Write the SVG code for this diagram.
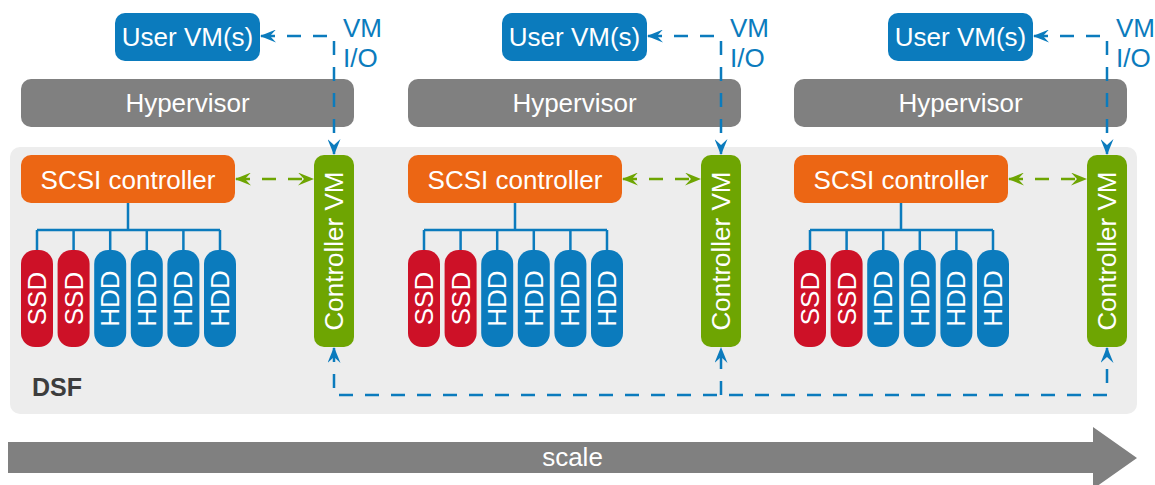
<svg xmlns="http://www.w3.org/2000/svg" width="1155" height="485" viewBox="0 0 1155 485">
<style>
  text { font-family: "Liberation Sans", Arial, sans-serif; font-size: 26px; fill: #ffffff; }
  .uvm { fill: #0b7bbd; }
  .hyp { fill: #808080; }
  .scsi { fill: #ec6614; }
  .cvm { fill: #6ea502; }
  .ssd { fill: #cd1127; }
  .hdd { fill: #0b7bbd; }
  .c { text-anchor: middle; }
  .blue { stroke: #0b7bbd; stroke-width: 2.5; fill: none; }
  .bdash { stroke: #0b7bbd; stroke-width: 2.5; fill: none; stroke-dasharray: 14 12; }
  .gdash { stroke: #6ea502; stroke-width: 2.5; fill: none; stroke-dasharray: 14 12; }
</style>
<defs>
  <marker id="ab" viewBox="0 0 16 13" refX="15" refY="6.5" markerWidth="16" markerHeight="13" markerUnits="userSpaceOnUse" orient="auto-start-reverse">
    <path d="M16,6.5 L0,0 L6,6.5 L0,13 Z" fill="#0b7bbd"/>
  </marker>
  <marker id="ag" viewBox="0 0 16 13" refX="15" refY="6.5" markerWidth="16" markerHeight="13" markerUnits="userSpaceOnUse" orient="auto-start-reverse">
    <path d="M16,6.5 L0,0 L6,6.5 L0,13 Z" fill="#6ea502"/>
  </marker>
</defs>

<g id="dsf">
  <rect x="10" y="147" width="1127" height="267" rx="10" fill="#ededed"/>
  <text x="32" y="396" style="font-weight:bold;font-size:25px;fill:#3d3d3d">DSF</text>
</g>

<g id="col1">
  <g id="uservm1"><rect class="uvm" x="115" y="13" width="145" height="48" rx="10"/><text class="c" x="187.5" y="46">User VM(s)</text></g>
  <g id="hyp1"><rect class="hyp" x="21" y="79" width="333" height="48" rx="10"/><text class="c" x="187.5" y="112">Hypervisor</text></g>
  <g id="scsi1"><rect class="scsi" x="21" y="155" width="214" height="48" rx="10"/><text class="c" x="128" y="189">SCSI controller</text></g>
  <g id="cvm1"><rect class="cvm" x="314" y="155" width="40" height="192" rx="10"/><text class="c" x="334" y="260" transform="rotate(-90 334 251)">Controller VM</text></g>
  <g id="disks1">
    <rect class="ssd" x="21" y="250" width="32" height="97" rx="14"/><text class="c" x="37" y="307.5" transform="rotate(-90 37 298.5)">SSD</text>
    <rect class="ssd" x="57.6" y="250" width="32" height="97" rx="14"/><text class="c" x="73.6" y="307.5" transform="rotate(-90 73.6 298.5)">SSD</text>
    <rect class="hdd" x="94.2" y="250" width="32" height="97" rx="14"/><text class="c" x="110.2" y="307.5" transform="rotate(-90 110.2 298.5)">HDD</text>
    <rect class="hdd" x="130.8" y="250" width="32" height="97" rx="14"/><text class="c" x="146.8" y="307.5" transform="rotate(-90 146.8 298.5)">HDD</text>
    <rect class="hdd" x="167.4" y="250" width="32" height="97" rx="14"/><text class="c" x="183.4" y="307.5" transform="rotate(-90 183.4 298.5)">HDD</text>
    <rect class="hdd" x="204" y="250" width="32" height="97" rx="14"/><text class="c" x="220" y="307.5" transform="rotate(-90 220 298.5)">HDD</text>
  </g>
  <text x="343" y="37" style="fill:#0b7bbd">VM</text>
  <text x="343" y="67" style="fill:#0b7bbd">I/O</text>
</g>

<g id="col2" transform="translate(387 0)">
  <g id="uservm2"><rect class="uvm" x="115" y="13" width="145" height="48" rx="10"/><text class="c" x="187.5" y="46">User VM(s)</text></g>
  <g id="hyp2"><rect class="hyp" x="21" y="79" width="333" height="48" rx="10"/><text class="c" x="187.5" y="112">Hypervisor</text></g>
  <g id="scsi2"><rect class="scsi" x="21" y="155" width="214" height="48" rx="10"/><text class="c" x="128" y="189">SCSI controller</text></g>
  <g id="cvm2"><rect class="cvm" x="314" y="155" width="40" height="192" rx="10"/><text class="c" x="334" y="260" transform="rotate(-90 334 251)">Controller VM</text></g>
  <g id="disks2">
    <rect class="ssd" x="21" y="250" width="32" height="97" rx="14"/><text class="c" x="37" y="307.5" transform="rotate(-90 37 298.5)">SSD</text>
    <rect class="ssd" x="57.6" y="250" width="32" height="97" rx="14"/><text class="c" x="73.6" y="307.5" transform="rotate(-90 73.6 298.5)">SSD</text>
    <rect class="hdd" x="94.2" y="250" width="32" height="97" rx="14"/><text class="c" x="110.2" y="307.5" transform="rotate(-90 110.2 298.5)">HDD</text>
    <rect class="hdd" x="130.8" y="250" width="32" height="97" rx="14"/><text class="c" x="146.8" y="307.5" transform="rotate(-90 146.8 298.5)">HDD</text>
    <rect class="hdd" x="167.4" y="250" width="32" height="97" rx="14"/><text class="c" x="183.4" y="307.5" transform="rotate(-90 183.4 298.5)">HDD</text>
    <rect class="hdd" x="204" y="250" width="32" height="97" rx="14"/><text class="c" x="220" y="307.5" transform="rotate(-90 220 298.5)">HDD</text>
  </g>
  <text x="343" y="37" style="fill:#0b7bbd">VM</text>
  <text x="343" y="67" style="fill:#0b7bbd">I/O</text>
</g>

<g id="col3" transform="translate(773 0)">
  <g id="uservm3"><rect class="uvm" x="115" y="13" width="145" height="48" rx="10"/><text class="c" x="187.5" y="46">User VM(s)</text></g>
  <g id="hyp3"><rect class="hyp" x="21" y="79" width="333" height="48" rx="10"/><text class="c" x="187.5" y="112">Hypervisor</text></g>
  <g id="scsi3"><rect class="scsi" x="21" y="155" width="214" height="48" rx="10"/><text class="c" x="128" y="189">SCSI controller</text></g>
  <g id="cvm3"><rect class="cvm" x="314" y="155" width="40" height="192" rx="10"/><text class="c" x="334" y="260" transform="rotate(-90 334 251)">Controller VM</text></g>
  <g id="disks3">
    <rect class="ssd" x="21" y="250" width="32" height="97" rx="14"/><text class="c" x="37" y="307.5" transform="rotate(-90 37 298.5)">SSD</text>
    <rect class="ssd" x="57.6" y="250" width="32" height="97" rx="14"/><text class="c" x="73.6" y="307.5" transform="rotate(-90 73.6 298.5)">SSD</text>
    <rect class="hdd" x="94.2" y="250" width="32" height="97" rx="14"/><text class="c" x="110.2" y="307.5" transform="rotate(-90 110.2 298.5)">HDD</text>
    <rect class="hdd" x="130.8" y="250" width="32" height="97" rx="14"/><text class="c" x="146.8" y="307.5" transform="rotate(-90 146.8 298.5)">HDD</text>
    <rect class="hdd" x="167.4" y="250" width="32" height="97" rx="14"/><text class="c" x="183.4" y="307.5" transform="rotate(-90 183.4 298.5)">HDD</text>
    <rect class="hdd" x="204" y="250" width="32" height="97" rx="14"/><text class="c" x="220" y="307.5" transform="rotate(-90 220 298.5)">HDD</text>
  </g>
  <text x="343" y="37" style="fill:#0b7bbd">VM</text>
  <text x="343" y="67" style="fill:#0b7bbd">I/O</text>
</g>

<g id="connectors">
  <g id="conn1">
    <path class="blue" d="M128,203 V230 M37,230 H220 M37,230 V250 M73.6,230 V250 M110.2,230 V250 M146.8,230 V250 M183.4,230 V250 M220,230 V250"/>
    <path class="gdash" d="M236,179 H313" marker-start="url(#ag)" marker-end="url(#ag)"/>
    <path class="bdash" d="M261,36 H334 V154" marker-start="url(#ab)" marker-end="url(#ab)"/>
  </g>
  <g id="conn2" transform="translate(387 0)">
    <path class="blue" d="M128,203 V230 M37,230 H220 M37,230 V250 M73.6,230 V250 M110.2,230 V250 M146.8,230 V250 M183.4,230 V250 M220,230 V250"/>
    <path class="gdash" d="M236,179 H313" marker-start="url(#ag)" marker-end="url(#ag)"/>
    <path class="bdash" d="M261,36 H334 V154" marker-start="url(#ab)" marker-end="url(#ab)"/>
  </g>
  <g id="conn3" transform="translate(773 0)">
    <path class="blue" d="M128,203 V230 M37,230 H220 M37,230 V250 M73.6,230 V250 M110.2,230 V250 M146.8,230 V250 M183.4,230 V250 M220,230 V250"/>
    <path class="gdash" d="M236,179 H313" marker-start="url(#ag)" marker-end="url(#ag)"/>
    <path class="bdash" d="M261,36 H334 V154" marker-start="url(#ab)" marker-end="url(#ab)"/>
  </g>
  <path class="bdash" d="M334,348 V395 H1107 V348" marker-start="url(#ab)" marker-end="url(#ab)"/>
  <path class="bdash" d="M721,395 V348" marker-end="url(#ab)"/>
</g>

<g id="scale">
  <polygon points="8,442 1093,442 1093,427 1137,458 1093,489 1093,473 8,473" fill="#808080"/>
  <text class="c" x="572.5" y="466">scale</text>
</g>
</svg>
